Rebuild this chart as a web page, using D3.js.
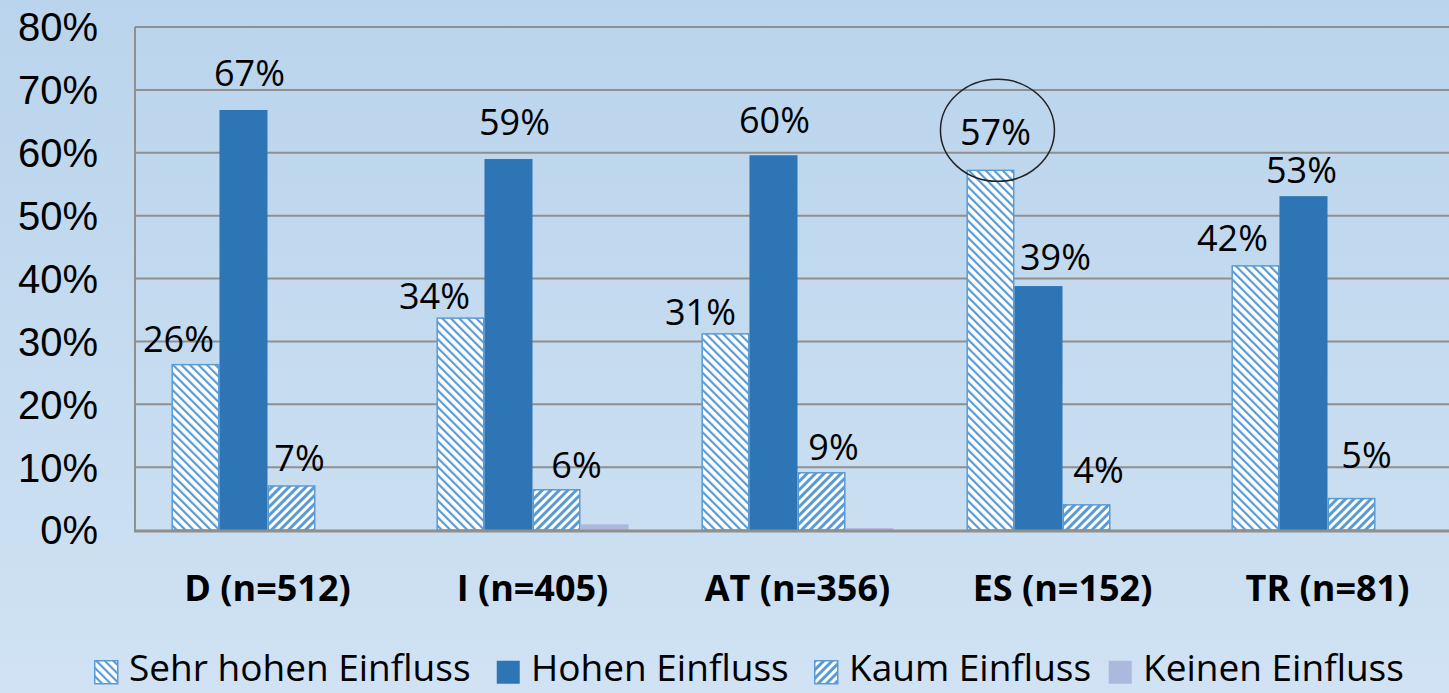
<!DOCTYPE html>
<html>
<head>
<meta charset="utf-8">
<script src="https://cdn.jsdelivr.net/npm/d3@7"></script>
<style>
  html, body { margin: 0; padding: 0; }
  body { width: 1449px; height: 693px; overflow: hidden; }
</style>
</head>
<body>
<div id="chart"></div>
<script>
const WIDTH = 1449
const HEIGHT = 693

const categories = ["D (n=512)", "I (n=405)", "AT (n=356)", "ES (n=152)", "TR (n=81)"]
const seriesNames = ["Sehr hohen Einfluss", "Hohen Einfluss", "Kaum Einfluss", "Keinen Einfluss"]
const sehrHohen = [0.263, 0.337, 0.312, 0.572, 0.42]
const hohen = [0.668, 0.59, 0.596, 0.388, 0.531]
const kaum = [0.07, 0.064, 0.091, 0.04, 0.05]
const keinen = [0, 0.009, 0.003, 0, 0]
const labelSehr = ["26%", "34%", "31%", "57%", "42%"]
const labelHohen = ["67%", "59%", "60%", "39%", "53%"]
const labelKaum = ["7%", "6%", "9%", "4%", "5%"]
const yTicks = [0, 0.1, 0.2, 0.3, 0.4, 0.5, 0.6, 0.7, 0.8]

const allValues = [sehrHohen, hohen, kaum, keinen]
const allLabels = [labelSehr, labelHohen, labelKaum, null]

// label nudges (Excel moves some labels around to avoid overlaps)
const nudgeX = [
    [-17, -26, -25, 5, -23],
    [6, 6, 1, 17, -2],
    [8, 20, 12, 12, 15]
]
const nudgeY = [
    [1, -3, -3, 13, 3],
    [12, 12, 10, 4, 1],
    [3, 0, 1, 10, 19]
]

const FONT = "'Open Sans', 'Noto Sans', sans-serif"

const svg = d3.select("#chart")
    .append("svg")
    .attr("width", WIDTH)
    .attr("height", HEIGHT)

const defs = svg.append("defs")

const bg = defs.append("linearGradient")
    .attr("id", "bg")
    .attr("x1", 0).attr("y1", 0).attr("x2", 0).attr("y2", 1)
bg.append("stop").attr("offset", "0%").attr("stop-color", "#b9d4ec")
bg.append("stop").attr("offset", "100%").attr("stop-color", "#d0e2f3")

function hatch(id, angle, lineW) {
    const p = defs.append("pattern")
        .attr("id", id)
        .attr("patternUnits", "userSpaceOnUse")
        .attr("width", 6).attr("height", 6)
        .attr("patternTransform", `rotate(${angle})`)
    p.append("rect").attr("width", 6).attr("height", 6).attr("fill", "#ffffff")
    p.append("rect").attr("width", lineW).attr("height", 6).attr("fill", "#5b9bd5")
}
hatch("sehr", -45, 2.2)
hatch("kaum", 45, 3)

const fills = ["url(#sehr)", "#2e75b6", "url(#kaum)", "#adb9dc"]
const strokes = ["#5b9bd5", "none", "#5b9bd5", "none"]

svg.append("rect")
    .attr("width", WIDTH)
    .attr("height", HEIGHT)
    .attr("fill", "url(#bg)")

const x0 = d3.scaleBand()
    .domain(categories)
    .range([135, 1460])
    .paddingInner(0.275)
    .paddingOuter(0.1375)

const x1 = d3.scaleBand()
    .domain(d3.range(seriesNames.length))
    .range([0, x0.bandwidth()])

const y = d3.scaleLinear()
    .domain([0, 0.8])
    .range([530, 27])

// gridlines
svg.append("g")
    .selectAll("line")
    .data(yTicks.slice(1))
    .enter()
    .append("line")
    .attr("x1", 135).attr("x2", WIDTH)
    .attr("y1", d => y(d)).attr("y2", d => y(d))
    .attr("stroke", "#8f8f8f")
    .attr("stroke-width", 2)

// y tick labels
svg.append("g")
    .selectAll("text")
    .data(yTicks)
    .enter()
    .append("text")
    .attr("x", 98)
    .attr("y", d => y(d))
    .attr("dy", "0.36em")
    .attr("text-anchor", "end")
    .style("font-family", "'Liberation Sans', Arial, sans-serif")
    .style("font-size", "40px")
    .attr("fill", "#000")
    .text(d => Math.round(d * 100) + "%")

// bars
const groups = svg.append("g")
    .selectAll("g")
    .data(categories)
    .enter()
    .append("g")
    .attr("transform", d => `translate(${x0(d)},0)`)

groups.each(function(cat, ci) {
    const g = d3.select(this)
    const rows = allValues.map((vals, si) => ({ si, v: vals[ci] }))
    g.selectAll("rect")
        .data(rows)
        .enter()
        .append("rect")
        .attr("x", d => x1(d.si) + (strokes[d.si] !== "none" ? 0.75 : 0))
        .attr("y", d => y(d.v))
        .attr("width", d => x1.bandwidth() - (strokes[d.si] !== "none" ? 1.5 : 0))
        .attr("height", d => y(0) - y(d.v))
        .attr("fill", d => fills[d.si])
        .attr("stroke", d => strokes[d.si])
        .attr("stroke-width", 1.5)

    g.selectAll("text.val")
        .data(rows.filter(d => allLabels[d.si]))
        .enter()
        .append("text")
        .attr("class", "val")
        .attr("x", d => x1(d.si) + x1.bandwidth() / 2 + nudgeX[d.si][ci])
        .attr("y", d => y(d.v) - 12 - nudgeY[d.si][ci])
        .attr("text-anchor", "middle")
        .style("font-family", FONT)
        .style("font-size", "36px")
        .attr("fill", "#000")
        .text(d => allLabels[d.si][ci])
})

// axes lines
svg.append("line")
    .attr("x1", 135).attr("x2", 135)
    .attr("y1", y(0.8)).attr("y2", y(0))
    .attr("stroke", "#8f8f8f").attr("stroke-width", 2)
svg.append("line")
    .attr("x1", 134).attr("x2", WIDTH)
    .attr("y1", y(0) + 1).attr("y2", y(0) + 1)
    .attr("stroke", "#8f8f8f").attr("stroke-width", 3)

// category labels
svg.append("g")
    .selectAll("text")
    .data(categories)
    .enter()
    .append("text")
    .attr("x", d => x0(d) + x0.bandwidth() / 2)
    .attr("y", 588)
    .attr("dy", "0.36em")
    .attr("text-anchor", "middle")
    .style("font-family", FONT)
    .style("font-size", "36px")
    .style("font-weight", "bold")
    .attr("fill", "#000")
    .text(d => d)

// circle around ES "Sehr hohen" label
const esIdx = 3
svg.append("ellipse")
    .attr("cx", x0(categories[esIdx]) + x1(0) + x1.bandwidth() / 2 + 7)
    .attr("cy", y(sehrHohen[esIdx]) - 40)
    .attr("rx", 57)
    .attr("ry", 51)
    .attr("fill", "none")
    .attr("stroke", "#222")
    .attr("stroke-width", 1.5)

// legend
const legendX = [94, 496, 814, 1108]
const legend = svg.append("g")
    .selectAll("g")
    .data(seriesNames)
    .enter()
    .append("g")
    .attr("transform", (d, i) => `translate(${legendX[i]},660)`)
legend.append("rect")
    .attr("x", 0.75).attr("y", 0.75)
    .attr("width", 23).attr("height", 23)
    .attr("fill", (d, i) => fills[i])
    .attr("stroke", (d, i) => strokes[i])
    .attr("stroke-width", 1.5)
legend.append("text")
    .attr("x", 35)
    .attr("y", 21)
    .style("font-family", FONT)
    .style("font-size", "37px")
    .attr("fill", "#000")
    .text(d => d)
</script>
</body>
</html>
